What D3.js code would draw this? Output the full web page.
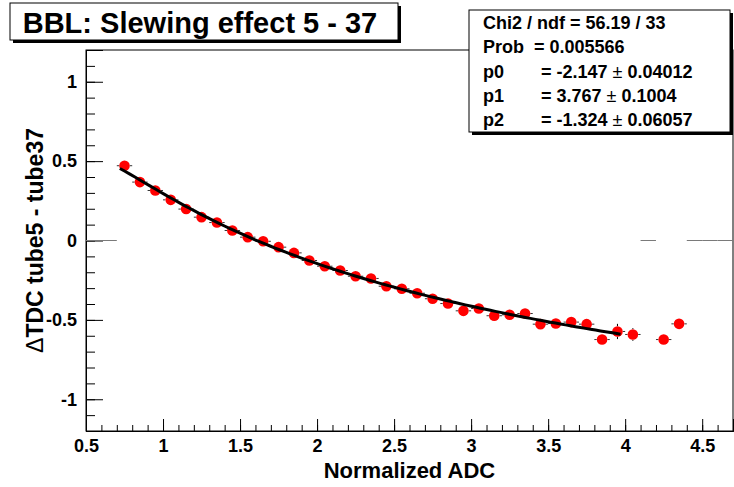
<!DOCTYPE html>
<html>
<head>
<meta charset="utf-8">
<script src="https://cdn.jsdelivr.net/npm/d3@7"></script>
<style>
  html, body { margin: 0; padding: 0; background: #fff; }
  svg { display: block; font-family: "Liberation Sans", Arial, Helvetica, sans-serif; }
</style>
</head>
<body>
<svg id="chart" width="734" height="487"></svg>
<script>
// Bin centres (width 0.1) and mean TDC differences
const binCenters = [0.75, 0.85, 0.95, 1.05, 1.15, 1.25, 1.35, 1.45, 1.55, 1.65,
                    1.75, 1.85, 1.95, 2.05, 2.15, 2.25, 2.35, 2.45, 2.55, 2.65,
                    2.75, 2.85, 2.95, 3.05, 3.15, 3.25, 3.35, 3.45, 3.55, 3.65,
                    3.75, 3.85, 3.95, 4.05, 4.25, 4.35];
const binValues  = [0.471, 0.368, 0.315, 0.256, 0.198, 0.147, 0.113, 0.063, 0.021, -0.005,
                    -0.042, -0.078, -0.126, -0.162, -0.189, -0.225, -0.239, -0.288, -0.304, -0.332,
                    -0.367, -0.397, -0.443, -0.428, -0.474, -0.468, -0.460, -0.527, -0.523, -0.514,
                    -0.527, -0.624, -0.573, -0.592, -0.624, -0.525];
const binErrors  = [0.012, 0.011, 0.011, 0.011, 0.011, 0.011, 0.011, 0.011, 0.012, 0.012,
                    0.012, 0.012, 0.013, 0.013, 0.013, 0.014, 0.014, 0.015, 0.015, 0.016,
                    0.017, 0.017, 0.018, 0.019, 0.020, 0.021, 0.022, 0.024, 0.025, 0.027,
                    0.029, 0.031, 0.048, 0.040, 0.030, 0.030];
// Empty bins, drawn at zero
const emptyBins = [0.55, 0.65, 4.15, 4.45, 4.55, 4.65];
const binWidth = 0.1;

// Fit f(x) = p0 + p1/sqrt(x) + p2/x
const fitParams = [-2.147, 3.767, -1.324];
const fitRange = [0.72, 3.97];
const statLines = [
  ["Chi2 / ndf = 56.19 / 33"],
  ["Prob  = 0.005566"],
  ["p0", "= -2.147 ", "0.04012"],
  ["p1", "= 3.767 ", "0.1004"],
  ["p2", "= -1.324 ", "0.06057"]
];

const xMajor = [0.5, 1, 1.5, 2, 2.5, 3, 3.5, 4, 4.5];
const yMajor = [-1, -0.5, 0, 0.5, 1];
const titleText = "BBL: Slewing effect 5 - 37";
const xTitle = "Normalized ADC";

const svg = d3.select("#chart");
const frame = { left: 86, right: 733, top: 50, bottom: 431 };

const x = d3.scaleLinear().domain([0.5, 4.7]).range([frame.left, frame.right]);
const y = d3.scaleLinear().domain([-1.2, 1.2]).range([frame.bottom, frame.top]);

// Frame
svg.append("rect")
  .attr("x", frame.left).attr("y", frame.top)
  .attr("width", frame.right - frame.left).attr("height", frame.bottom - frame.top)
  .attr("fill", "none").attr("stroke", "#000").attr("stroke-width", 1);

// Minor ticks
const xMinor = d3.range(5, 48).map(v => v / 10);
const yMinor = d3.range(-12, 13).map(v => v / 10);

const gxMinor = svg.append("g").attr("transform", `translate(0,${frame.bottom})`)
  .call(d3.axisBottom(x).tickValues(xMinor).tickSize(-6).tickFormat(""));
const gyMinor = svg.append("g").attr("transform", `translate(${frame.left},0)`)
  .call(d3.axisLeft(y).tickValues(yMinor).tickSize(-9).tickFormat(""));

// Major ticks with labels
const plain = d => String(d);
const gx = svg.append("g").attr("transform", `translate(0,${frame.bottom})`)
  .call(d3.axisBottom(x).tickValues(xMajor).tickSize(-12).tickPadding(8).tickFormat(plain));
const gy = svg.append("g").attr("transform", `translate(${frame.left},0)`)
  .call(d3.axisLeft(y).tickValues(yMajor).tickSize(-17).tickPadding(9).tickFormat(plain));

[gxMinor, gyMinor, gx, gy].forEach(g => {
  g.select(".domain").attr("stroke", "#000");
  g.selectAll(".tick line").attr("stroke", "#000");
});
[gx, gy].forEach(g => g.selectAll(".tick text")
  .attr("font-family", "'Liberation Sans', Arial, sans-serif")
  .attr("font-weight", "bold").attr("font-size", 18).attr("fill", "#000"));
gx.selectAll(".tick text").attr("dy", "0.71em");

// Empty bins
svg.append("g").selectAll("line").data(emptyBins).join("line")
  .attr("x1", d => x(d - binWidth / 2)).attr("x2", d => x(d + binWidth / 2))
  .attr("y1", y(0)).attr("y2", y(0))
  .attr("stroke", "#7a7a7a").attr("stroke-width", 1);

// Points with error bars (bars leave a gap around the marker)
const r = 5.3;
const pts = binCenters.map((c, i) => ({ c, v: binValues[i], e: binErrors[i] }));
const eb = svg.append("g").attr("stroke", "#333").attr("stroke-width", 1);
pts.forEach(p => {
  const cx = x(p.c), cy = y(p.v);
  const xl = x(p.c - binWidth / 2), xr = x(p.c + binWidth / 2);
  if (cx - r > xl) eb.append("line").attr("x1", xl).attr("x2", cx - r).attr("y1", cy).attr("y2", cy);
  if (xr > cx + r) eb.append("line").attr("x1", cx + r).attr("x2", xr).attr("y1", cy).attr("y2", cy);
  const yt = y(p.v + p.e), yb = y(p.v - p.e);
  if (cy - r > yt) eb.append("line").attr("x1", cx).attr("x2", cx).attr("y1", yt).attr("y2", cy - r).attr("stroke", "#000");
  if (yb > cy + r) eb.append("line").attr("x1", cx).attr("x2", cx).attr("y1", cy + r).attr("y2", yb).attr("stroke", "#000");
});
svg.append("g").selectAll("circle").data(pts).join("circle")
  .attr("cx", d => x(d.c)).attr("cy", d => y(d.v)).attr("r", r)
  .attr("fill", "#ff0000");

// Fit curve
const fitFn = t => fitParams[0] + fitParams[1] / Math.sqrt(t) + fitParams[2] / t;
const fitX = d3.range(0, 101).map(i => fitRange[0] + (fitRange[1] - fitRange[0]) * i / 100);
svg.append("path")
  .attr("d", d3.line().x(d => x(d)).y(d => y(fitFn(d)))(fitX))
  .attr("fill", "none").attr("stroke", "#000").attr("stroke-width", 3);

// Axis titles
svg.append("text")
  .attr("x", (frame.left + frame.right) / 2).attr("y", 478)
  .attr("text-anchor", "middle").attr("font-weight", "bold").attr("font-size", 22)
  .text(xTitle);
const yt = svg.append("text")
  .attr("transform", `translate(43,${(frame.top + frame.bottom) / 2}) rotate(-90)`)
  .attr("text-anchor", "middle").attr("font-weight", "bold").attr("font-size", 23);
yt.append("tspan").attr("font-weight", "normal").text("\u0394");
yt.append("tspan").text("TDC tube5 - tube37");

// Title box
const tb = { x: 10, y: 3, w: 388, h: 37 };
svg.append("rect").attr("x", tb.x + 3).attr("y", tb.y + 3).attr("width", tb.w).attr("height", tb.h).attr("fill", "#000");
svg.append("rect").attr("x", tb.x).attr("y", tb.y).attr("width", tb.w).attr("height", tb.h)
  .attr("fill", "#fff").attr("stroke", "#000").attr("stroke-width", 1);
svg.append("text").attr("x", tb.x + tb.w / 2 - 4).attr("y", 33)
  .attr("text-anchor", "middle").attr("font-weight", "bold").attr("font-size", 29)
  .text(titleText);

// Fit statistics box
const sb = { x: 469, y: 10, w: 261, h: 122 };
svg.append("rect").attr("x", sb.x + 3).attr("y", sb.y + 3).attr("width", sb.w).attr("height", sb.h).attr("fill", "#000");
svg.append("rect").attr("x", sb.x).attr("y", sb.y).attr("width", sb.w).attr("height", sb.h)
  .attr("fill", "#fff").attr("stroke", "#000").attr("stroke-width", 1);
const lineH = sb.h / statLines.length;
statLines.forEach((ln, i) => {
  const baseY = sb.y + (i + 0.5) * lineH + 6.5;
  svg.append("text").attr("x", sb.x + 14).attr("y", baseY)
    .attr("font-weight", "bold").attr("font-size", 18).style("white-space", "pre")
    .text(ln[0]);
  if (ln.length > 2) {
    const t2 = svg.append("text").attr("x", sb.x + 72).attr("y", baseY)
      .attr("font-weight", "bold").attr("font-size", 18).style("white-space", "pre");
    t2.append("tspan").text(ln[1]);
    t2.append("tspan").attr("font-weight", "normal").text("\u00b1 ");
    t2.append("tspan").text(ln[2]);
  }
});
</script>
</body>
</html>
